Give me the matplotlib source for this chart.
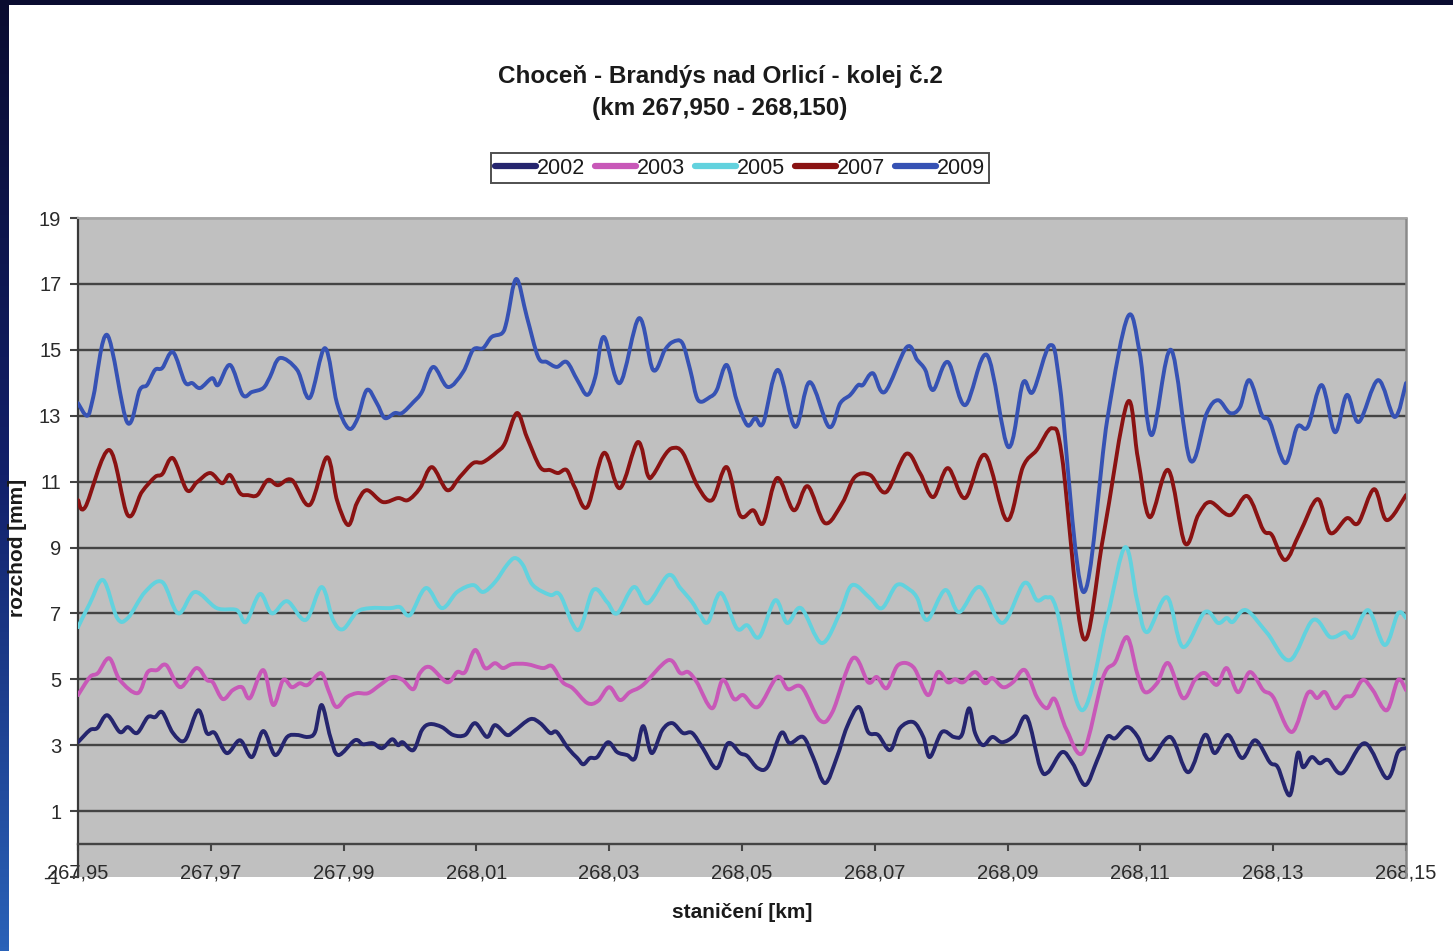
import numpy as np
import matplotlib
matplotlib.use("Agg")
import matplotlib.pyplot as plt
from matplotlib.ticker import FuncFormatter, FixedLocator
from matplotlib.path import Path
from matplotlib.patches import PathPatch
from matplotlib.lines import Line2D
from matplotlib.colors import LinearSegmentedColormap

plt.rcParams['font.family'] = ['Liberation Sans', 'DejaVu Sans']

# Chainage start [km]; sample positions are stored as metres from this point
KM_START = 267.95
KM_END = 268.15

# (position [m], gauge [mm]) pairs per measurement year
S2002 = [(0, 3.09), (1.8, 3.46), (2.9, 3.52), (4.4, 3.91), (6.3, 3.4), (7.5, 3.55), (8.9, 3.37),
         (10.5, 3.85), (11.6, 3.85), (12.7, 4.0), (14.3, 3.37), (16.1, 3.15), (18.1, 4.06),
         (19.4, 3.37), (20.6, 3.37), (22.4, 2.76), (24.4, 3.15), (26.2, 2.64), (27.9, 3.43),
         (29.7, 2.7), (31.5, 3.25), (33.0, 3.31), (34.6, 3.25), (35.7, 3.4), (36.7, 4.22),
         (38.0, 3.25), (39.2, 2.7), (41.7, 3.15), (42.9, 3.03), (44.4, 3.06), (45.8, 2.91),
         (47.3, 3.18), (48.2, 3.0), (48.9, 3.09), (50.5, 2.85), (51.8, 3.46), (53.0, 3.64),
         (54.8, 3.55), (56.5, 3.31), (58.3, 3.31), (59.8, 3.67), (61.6, 3.25), (62.8, 3.61),
         (64.6, 3.31), (65.7, 3.43), (68.1, 3.79), (69.6, 3.67), (71.1, 3.37), (72.1, 3.4),
         (73.8, 2.91), (75.2, 2.61), (76.1, 2.42), (77.1, 2.61), (78.2, 2.64), (79.8, 3.09),
         (81.2, 2.79), (82.7, 2.7), (83.9, 2.61), (85.1, 3.58), (86.4, 2.76), (88.0, 3.46),
         (89.5, 3.67), (91.1, 3.37), (92.5, 3.37), (94.1, 2.91), (96.2, 2.3), (97.9, 3.06),
         (99.7, 2.76), (100.8, 2.67), (102.4, 2.3), (103.9, 2.36), (105.9, 3.37), (107.2, 3.06),
         (109.2, 3.25), (110.7, 2.64), (112.5, 1.85), (114.3, 2.64), (115.8, 3.55), (117.6, 4.16),
         (119.0, 3.4), (120.5, 3.31), (122.3, 2.85), (123.8, 3.52), (125.8, 3.7), (127.3, 3.25),
         (128.3, 2.64), (130.1, 3.4), (131.9, 3.25), (133.1, 3.31), (134.2, 4.12), (135.1, 3.37),
         (136.3, 3.0), (137.7, 3.25), (139.2, 3.09), (141.1, 3.31), (142.9, 3.85), (144.9, 2.33),
         (146.1, 2.18), (148.2, 2.79), (149.8, 2.45), (151.7, 1.79), (153.5, 2.55), (155.0, 3.25),
         (156.2, 3.21), (158.0, 3.55), (159.6, 3.25), (161.4, 2.55), (164.5, 3.25), (167.2, 2.18),
         (169.7, 3.31), (171.2, 2.76), (173.2, 3.31), (175.3, 2.61), (177.3, 3.15), (179.5, 2.48),
         (180.7, 2.33), (182.5, 1.48), (183.7, 2.76), (184.5, 2.33), (185.8, 2.64), (187.0, 2.45),
         (188.3, 2.55), (190.4, 2.15), (193.8, 3.06), (197.1, 2.0), (198.8, 2.79), (200, 2.91)]

S2003 = [(0, 4.52), (1.8, 5.07), (3.0, 5.19), (4.7, 5.64), (6.3, 4.98), (9.0, 4.58), (10.5, 5.22),
         (11.9, 5.28), (13.3, 5.43), (15.4, 4.76), (17.8, 5.34), (19.4, 4.98), (20.3, 4.91),
         (21.8, 4.4), (23.3, 4.67), (24.7, 4.76), (25.9, 4.43), (27.9, 5.28), (29.4, 4.22),
         (30.9, 4.98), (32.2, 4.76), (33.4, 4.88), (34.6, 4.83), (36.6, 5.19), (37.7, 4.67),
         (38.9, 4.16), (40.5, 4.46), (42.0, 4.58), (43.7, 4.58), (45.5, 4.83), (47.3, 5.07),
         (48.9, 4.98), (50.5, 4.7), (51.5, 5.19), (53.0, 5.37), (55.6, 4.91), (57.1, 5.22),
         (58.3, 5.22), (59.8, 5.89), (61.3, 5.34), (62.8, 5.49), (64.0, 5.34), (65.4, 5.46),
         (67.6, 5.46), (70.0, 5.34), (71.4, 5.4), (73.0, 4.91), (74.5, 4.73), (76.7, 4.28),
         (78.3, 4.34), (80.0, 4.76), (81.6, 4.37), (83.1, 4.61), (85.1, 4.83), (88.9, 5.58),
         (90.7, 5.19), (91.9, 5.22), (93.2, 4.91), (95.5, 4.12), (97.1, 4.98), (98.8, 4.4),
         (100.2, 4.52), (102.4, 4.16), (105.3, 5.07), (106.9, 4.7), (109.0, 4.76), (111.7, 3.76),
         (113.6, 4.0), (116.7, 5.64), (119.0, 4.91), (120.3, 5.07), (121.8, 4.73), (123.5, 5.43),
         (125.8, 5.37), (128.0, 4.52), (129.5, 5.22), (131.0, 4.91), (132.1, 5.0), (133.3, 4.91),
         (135.1, 5.22), (136.6, 4.88), (137.7, 5.04), (139.3, 4.76), (140.8, 4.91), (142.6, 5.28),
         (144.4, 4.46), (145.9, 4.12), (147.1, 4.4), (148.9, 3.46), (151.4, 2.79), (154.4, 5.07),
         (156.2, 5.52), (158.0, 6.28), (159.5, 5.19), (160.7, 4.61), (162.5, 4.88), (164.2, 5.49),
         (166.4, 4.43), (168.2, 4.98), (169.7, 5.19), (171.5, 4.83), (173.0, 5.34), (174.7, 4.61),
         (176.5, 5.22), (178.5, 4.67), (180.0, 4.46), (182.8, 3.4), (185.2, 4.58), (186.6, 4.43),
         (187.8, 4.61), (189.3, 4.12), (190.8, 4.46), (192.0, 4.52), (193.5, 4.98), (195.0, 4.67),
         (197.1, 4.06), (198.8, 4.98), (200, 4.67)]

S2005 = [(0, 6.58), (1.8, 7.31), (3.8, 8.01), (5.9, 6.86), (7.5, 6.86), (10.1, 7.65), (12.7, 7.95),
         (15.1, 7.0), (17.6, 7.65), (20.9, 7.16), (23.9, 7.1), (25.3, 6.74), (27.4, 7.59),
         (29.2, 7.0), (31.5, 7.37), (34.3, 6.8), (36.7, 7.8), (38.4, 6.8), (39.9, 6.52),
         (42.0, 7.04), (44.0, 7.16), (47.0, 7.16), (48.5, 7.19), (50.0, 6.95), (52.4, 7.77),
         (54.8, 7.16), (57.1, 7.65), (59.5, 7.86), (61.0, 7.65), (62.8, 7.95), (64.6, 8.47),
         (65.8, 8.68), (67.0, 8.47), (68.5, 7.86), (71.1, 7.56), (72.6, 7.56), (75.3, 6.49),
         (77.6, 7.71), (79.7, 7.34), (81.2, 7.0), (83.7, 7.8), (85.8, 7.31), (88.9, 8.16),
         (90.7, 7.77), (92.5, 7.34), (93.7, 6.95), (94.9, 6.74), (96.8, 7.62), (99.2, 6.55),
         (100.8, 6.64), (102.6, 6.28), (105.0, 7.4), (106.8, 6.71), (108.9, 7.16), (112.0, 6.1),
         (114.8, 7.04), (116.6, 7.86), (119.3, 7.46), (121.1, 7.16), (123.3, 7.86), (125.3, 7.71),
         (126.4, 7.46), (127.9, 6.8), (130.6, 7.71), (132.7, 7.04), (135.8, 7.8), (139.2, 6.71),
         (142.5, 7.92), (144.4, 7.4), (145.9, 7.49), (147.4, 7.1), (151.2, 4.06), (155.0, 6.89),
         (157.7, 9.01), (159.5, 7.4), (161.0, 6.43), (164.0, 7.49), (166.4, 5.98), (169.7, 7.04),
         (171.7, 6.71), (173.0, 6.86), (173.9, 6.74), (175.9, 7.1), (179.1, 6.4), (182.5, 5.58),
         (186.0, 6.8), (188.6, 6.28), (190.8, 6.43), (192.0, 6.28), (194.3, 7.1), (196.8, 6.04),
         (198.8, 7.0), (200, 6.86)]

S2007 = [(0, 10.44), (1.1, 10.23), (4.7, 11.96), (7.5, 9.98), (9.6, 10.68), (11.6, 11.14),
         (12.7, 11.23), (14.3, 11.71), (16.4, 10.74), (17.9, 10.98), (19.9, 11.26), (21.7, 10.95),
         (22.9, 11.2), (24.4, 10.65), (25.6, 10.59), (27.0, 10.59), (28.6, 11.05), (30.1, 10.89),
         (32.2, 11.05), (34.9, 10.29), (37.5, 11.74), (39.0, 10.44), (40.7, 9.68), (42.0, 10.35),
         (43.5, 10.74), (45.9, 10.38), (48.2, 10.5), (49.7, 10.44), (51.5, 10.8), (53.3, 11.44),
         (55.6, 10.74), (57.5, 11.14), (59.5, 11.56), (61.0, 11.59), (63.1, 11.9), (64.3, 12.17),
         (66.1, 13.08), (67.6, 12.35), (69.6, 11.44), (71.1, 11.35), (72.3, 11.26), (73.6, 11.35),
         (74.8, 10.83), (76.7, 10.23), (79.2, 11.87), (81.6, 10.8), (84.3, 12.2), (85.8, 11.2),
         (86.6, 11.2), (88.4, 11.81), (89.6, 12.02), (91.1, 11.87), (93.4, 10.83), (95.5, 10.44),
         (97.7, 11.44), (99.7, 9.98), (101.7, 10.13), (103.2, 9.74), (105.3, 11.11), (107.8, 10.13),
         (109.9, 10.86), (112.5, 9.74), (115.1, 10.35), (117.0, 11.14), (119.3, 11.2), (121.7, 10.68),
         (124.7, 11.84), (126.8, 11.26), (128.8, 10.53), (131.0, 11.41), (133.6, 10.5), (136.6, 11.81),
         (139.9, 9.83), (142.3, 11.44), (144.4, 11.96), (146.7, 12.62), (148.2, 11.74), (151.4, 6.25),
         (154.4, 9.32), (158.0, 13.38), (159.6, 11.74), (161.4, 9.92), (164.2, 11.35), (166.7, 9.13),
         (168.7, 9.98), (170.5, 10.38), (173.5, 9.98), (176.1, 10.56), (178.5, 9.53), (179.8, 9.38),
         (181.8, 8.62), (184.0, 9.44), (186.7, 10.47), (188.6, 9.44), (191.1, 9.89), (192.8, 9.74),
         (195.2, 10.77), (197.1, 9.83), (200, 10.59)]

S2009 = [(0, 13.38), (1.4, 13.0), (2.3, 13.57), (4.4, 15.45), (7.4, 12.8), (9.3, 13.78), (10.4, 13.93),
         (11.6, 14.39), (12.7, 14.45), (14.3, 14.93), (16.1, 14.02), (17.2, 13.99), (18.4, 13.84),
         (20.2, 14.14), (21.1, 13.93), (22.9, 14.54), (24.8, 13.63), (26.2, 13.72), (27.9, 13.84),
         (28.9, 14.17), (30.4, 14.75), (33.0, 14.39), (34.9, 13.54), (37.2, 15.05), (39.0, 13.38),
         (40.7, 12.62), (42.0, 12.87), (43.5, 13.78), (45.0, 13.38), (46.2, 12.93), (47.7, 13.08),
         (48.8, 13.08), (50.5, 13.41), (51.8, 13.72), (53.5, 14.48), (55.7, 13.87), (58.0, 14.33),
         (59.5, 15.0), (61.0, 15.05), (62.3, 15.39), (63.9, 15.51), (64.6, 15.9), (66.0, 17.15),
         (67.6, 16.0), (69.3, 14.78), (70.6, 14.63), (72.1, 14.48), (73.6, 14.63), (75.2, 14.08),
         (76.7, 13.63), (77.9, 14.17), (79.2, 15.39), (81.6, 13.99), (84.5, 15.96), (86.6, 14.39),
         (88.4, 15.0), (89.6, 15.24), (91.0, 15.21), (92.2, 14.39), (93.4, 13.47), (95.2, 13.57),
         (96.2, 13.78), (97.7, 14.54), (99.2, 13.47), (100.8, 12.71), (102.0, 12.93), (103.2, 12.78),
         (105.4, 14.39), (108.0, 12.66), (110.2, 14.02), (113.1, 12.66), (114.8, 13.38), (116.3, 13.63),
         (117.5, 13.93), (118.2, 13.93), (119.7, 14.29), (121.5, 13.72), (124.8, 15.08), (126.4, 14.69),
         (127.6, 14.39), (128.8, 13.78), (131.0, 14.63), (133.6, 13.32), (136.9, 14.84), (140.1, 12.05),
         (142.3, 13.99), (143.8, 13.72), (146.4, 15.14), (147.9, 13.87), (151.4, 7.65), (155.0, 12.87),
         (158.1, 16.0), (159.9, 14.9), (161.7, 12.41), (164.6, 15.0), (167.5, 11.65), (170.0, 13.08),
         (171.7, 13.47), (173.5, 13.08), (175.0, 13.26), (176.4, 14.08), (178.3, 13.02), (179.5, 12.81),
         (181.8, 11.56), (183.6, 12.66), (185.2, 12.66), (187.3, 13.93), (189.3, 12.5), (191.1, 13.63),
         (192.9, 12.81), (195.8, 14.08), (198.3, 12.96), (200, 13.99)]

YEARS = ["2002", "2003", "2005", "2007", "2009"]
SERIES = [S2002, S2003, S2005, S2007, S2009]
COLORS = ["#25256e", "#c858b8", "#62d2de", "#8a1212", "#3652b4"]

X_TICKS = np.round(np.arange(267.95, 268.1501, 0.02), 2)
Y_TICKS = np.arange(-1, 20, 2)


def smooth_path(x, y):
    """Smoothed polyline through every data point (cubic Bezier, Catmull-Rom tangents)."""
    pts = np.column_stack([x, y])
    n = len(pts)
    verts = [pts[0]]
    codes = [Path.MOVETO]
    for i in range(n - 1):
        p0 = pts[max(i - 1, 0)]
        p1 = pts[i]
        p2 = pts[i + 1]
        p3 = pts[min(i + 2, n - 1)]
        c1 = p1 + (p2 - p0) / 6.0
        c2 = p2 - (p3 - p1) / 6.0
        verts.extend([c1, c2, p2])
        codes.extend([Path.CURVE4] * 3)
    return Path(np.array(verts), codes)


W, H = 1453, 951
fig = plt.figure(figsize=(W / 100, H / 100), dpi=100)
fig.patch.set_facecolor("#0b0d36")

# dark backdrop with a brighter blue tint in the lower left
bg = fig.add_axes([0, 0, 1, 1], zorder=-10)
grad = np.linspace(0, 1, 256)[:, None] * np.ones((1, 2))
cmap_bg = LinearSegmentedColormap.from_list("bg", ["#0a0c30", "#12206a", "#2a62b8"])
bg.imshow(grad, cmap=cmap_bg, aspect="auto", extent=[0, 1, 0, 1], origin="upper")
bg.set_axis_off()

# white sheet the chart sits on
sheet = plt.Rectangle((9 / W, 0), 1, 1 - 5 / H, transform=fig.transFigure,
                      facecolor="white", edgecolor="none", zorder=-5)
fig.patches.append(sheet)

ax = fig.add_axes([78 / W, 1 - 877 / H, (1406 - 78) / W, (877 - 218) / H])
ax.set_facecolor("#c0c0c0")

handles = []
for year, pts, col in zip(YEARS, SERIES, COLORS):
    arr = np.array(pts)
    km = KM_START + arr[:, 0] / 1000.0
    patch = PathPatch(smooth_path(km, arr[:, 1]), facecolor="none", edgecolor=col,
                      lw=2.8, joinstyle="round", capstyle="round", zorder=3)
    ax.add_patch(patch)
    handles.append(Line2D([], [], color=col, lw=4.5, solid_capstyle="round", label=year))

ax.set_xlim(KM_START, KM_END)
ax.set_ylim(-1, 19)

# horizontal grid at the odd values above the bottom edge
for yv in Y_TICKS[1:]:
    ax.axhline(yv, color="#444444", lw=1.7, zorder=1)

ax.xaxis.set_major_locator(FixedLocator(X_TICKS))
ax.yaxis.set_major_locator(FixedLocator(Y_TICKS))
ax.xaxis.set_major_formatter(FuncFormatter(lambda v, p: f"{v:.2f}".replace(".", ",")))
ax.yaxis.set_major_formatter(FuncFormatter(lambda v, p: f"{int(round(v))}"))

ax.spines["bottom"].set_position(("data", 0))
ax.spines["bottom"].set_color("#444444")
ax.spines["bottom"].set_linewidth(1.7)
ax.spines["left"].set_color("#3a3a3a")
ax.spines["left"].set_linewidth(1.6)
ax.spines["right"].set_color("#8a8a8a")
ax.spines["right"].set_linewidth(1.8)
ax.spines["top"].set_color("#a8a8a8")
ax.spines["top"].set_linewidth(1.4)

ax.tick_params(axis="x", direction="out", length=5, width=1.5, color="#444444",
               pad=9, labelsize=14.5, labelcolor="#2a2a2a")
ax.tick_params(axis="y", direction="out", length=6, width=1.5, color="#444444",
               pad=6, labelsize=14.5, labelcolor="#2a2a2a")

fig.text(720 / W, 1 - 76 / H, "Choceň - Brandýs nad Orlicí - kolej č.2", ha="center",
         va="center", fontsize=17.5, fontweight="bold", color="#1a1a1a")
fig.text(720 / W, 1 - 108 / H, "(km 267,950 - 268,150)", ha="center",
         va="center", fontsize=17.5, fontweight="bold", color="#1a1a1a")

fig.text(742 / W, 1 - 913 / H, "staničení [km]", ha="center", va="center",
         fontsize=15, fontweight="bold", color="#1a1a1a")
fig.text(18 / W, 1 - 548 / H, "rozchod [mm]", ha="center", va="center", rotation=90,
         fontsize=15, fontweight="bold", color="#1a1a1a")

leg = fig.legend(handles=handles, loc="center", bbox_to_anchor=(740 / W, 1 - 168 / H),
                 ncol=5, frameon=True, fancybox=False, fontsize=15.5, handlelength=1.9,
                 handletextpad=0.05, columnspacing=0.45, borderpad=0.2,
                 borderaxespad=0)
leg.get_frame().set_edgecolor("#222222")
leg.get_frame().set_linewidth(1.4)
for t in leg.get_texts():
    t.set_color("#1a1a1a")

fig.savefig("out.png", dpi=100, facecolor=fig.get_facecolor())
